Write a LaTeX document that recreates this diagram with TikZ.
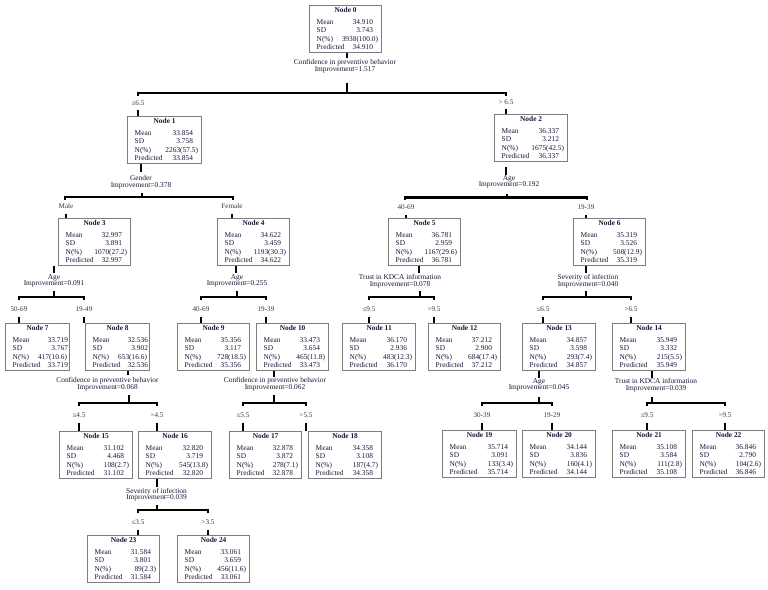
\documentclass[tikz,border=0pt]{standalone}
\usepackage{fontspec}
\setmainfont{Liberation Serif}
\definecolor{txt}{RGB}{22,22,55}
\definecolor{brc}{RGB}{55,55,70}
\definecolor{boxc}{RGB}{125,125,125}
\tikzset{
 box/.style={draw=boxc, line width=1.2bp, rectangle, inner sep=0, minimum height=47bp, anchor=north west},
 cell/.style={inner sep=0, text height=5bp, text depth=1.5bp, font=\fontsize{7.4}{8.3}\selectfont, text=txt},
 ttl/.style={cell, font=\fontsize{7.4}{8.3}\selectfont\bfseries},
 conn/.style={line width=2.1bp, draw=black},
 splitlab/.style={inner sep=0, align=center, font=\fontsize{7.4}{6.6}\selectfont, text=txt},
 brlab/.style={inner sep=0, text height=5bp, text depth=1.5bp, font=\fontsize{7.2}{8}\selectfont, text=brc},
}
\def\vm{9bp}\def\nm{4bp}
% name, x, y, width, number, mean, sd, n, predicted
\newcommand\tnode[9]{%
 \node[box, minimum width=#4bp] (#1) at (#2,#3) {};
 \node[ttl] (#1h) at ([yshift=-5.5bp]#1.north) {Node #5};
 \node[cell, anchor=west] (#1a) at ([xshift=7.5bp, yshift=-17.5bp]#1.north west) {Mean};
 \node[cell, anchor=west] (#1b) at ([xshift=7.5bp, yshift=-26bp]#1.north west) {SD};
 \node[cell, anchor=west] (#1c) at ([xshift=7.5bp, yshift=-34.3bp]#1.north west) {N(\%)};
 \node[cell, anchor=west] (#1d) at ([xshift=7.5bp, yshift=-42.6bp]#1.north west) {Predicted};
 \node[cell, anchor=east] (#1e) at ([xshift=-\vm, yshift=-17.5bp]#1.north east) {#6};
 \node[cell, anchor=east] (#1f) at ([xshift=-\vm, yshift=-26bp]#1.north east) {#7};
 \node[cell, anchor=east] (#1g) at ([xshift=-\nm, yshift=-34.3bp]#1.north east) {#8};
 \node[cell, anchor=east] (#1i) at ([xshift=-\vm, yshift=-42.6bp]#1.north east) {#9};
}
% parent stem: parent node, x, end y, coordinate name
\newcommand\pstem[4]{%
 \coordinate (#4) at (#2,#3);
 \draw[conn] (#4 |- #1.south) -- (#4);
}
% bar: name, tick x, tick top y, bar y, left x, right x
\newcommand\splitbar[6]{%
 \coordinate (#1l) at (#5,#4); \coordinate (#1r) at (#6,#4); \coordinate (#1t) at (#2,#3);
 \draw[conn] (#1t) -- (#1t |- #1l);
 \draw[conn] ([yshift=-3bp]#1l) -- (#1l) -- (#1r) -- ([yshift=-3bp]#1r);
}
% child label and stem: name, x, label y, text, child node
\newcommand\child[5]{%
 \node[brlab] (#1) at (#2,#3) {#4};
 \draw[conn] ([yshift=-6.5bp]#1.center) -- (#1 |- #5.north);
}
\begin{document}
\begin{tikzpicture}[x=1bp,y=-1bp]
\useasboundingbox (0,0) rectangle (768,590);
% ---------- nodes
\tnode{n0}{309}{5}{72}{0}{34.910}{3.743}{3938(100.0)}{34.910}
\tnode{n1}{127}{116}{74}{1}{33.854}{3.758}{2263(57.5)}{33.854}
\tnode{n2}{494}{114}{73}{2}{36.337}{3.212}{1675(42.5)}{36.337}
\tnode{n3}{58}{218}{72}{3}{32.997}{3.891}{1070(27.2)}{32.997}
\tnode{n4}{217}{218}{72}{4}{34.622}{3.459}{1193(30.3)}{34.622}
\tnode{n5}{388}{218}{72}{5}{36.781}{2.959}{1167(29.6)}{36.781}
\tnode{n6}{573}{218}{72}{6}{35.319}{3.526}{508(12.9)}{35.319}
\def\vm{2bp}\def\nm{3bp}
\tnode{n7}{5}{323}{64}{7}{33.719}{3.767}{417(10.6)}{33.719}
\tnode{n8}{85}{323}{64}{8}{32.536}{3.902}{653(16.6)}{32.536}
\def\vm{9bp}\def\nm{4bp}
\tnode{n9}{177}{323}{72}{9}{35.356}{3.117}{728(18.5)}{35.356}
\tnode{n10}{256}{323}{72}{10}{33.473}{3.654}{465(11.8)}{33.473}
\tnode{n11}{342}{323}{73}{11}{36.170}{2.936}{483(12.3)}{36.170}
\tnode{n12}{428}{323}{72}{12}{37.212}{2.900}{684(17.4)}{37.212}
\tnode{n13}{522}{323}{73}{13}{34.857}{3.598}{293(7.4)}{34.857}
\tnode{n14}{612}{323}{73}{14}{35.949}{3.332}{215(5.5)}{35.949}
\tnode{n15}{59}{431}{73}{15}{31.102}{4.468}{108(2.7)}{31.102}
\tnode{n16}{138}{431}{73}{16}{32.820}{3.719}{545(13.8)}{32.820}
\tnode{n17}{229}{431}{72}{17}{32.878}{3.872}{278(7.1)}{32.878}
\tnode{n18}{308}{431}{73}{18}{34.358}{3.108}{187(4.7)}{34.358}
\tnode{n19}{442}{430}{74}{19}{35.714}{3.091}{133(3.4)}{35.714}
\tnode{n20}{522}{430}{73}{20}{34.144}{3.836}{160(4.1)}{34.144}
\tnode{n21}{612}{430}{73}{21}{35.108}{3.584}{111(2.8)}{35.108}
\tnode{n22}{692}{430}{72}{22}{36.846}{2.790}{104(2.6)}{36.846}
\tnode{n23}{87}{535}{72}{23}{31.584}{3.801}{89(2.3)}{31.584}
\tnode{n24}{177}{535}{72}{24}{33.061}{3.659}{456(11.6)}{33.061}
% ---------- split 0
\pstem{n0}{347}{58}{p0}
\node[splitlab] (s0) at (345,66) {Confidence in preventive behavior\\Improvement=1.517};
\splitbar{b0}{347}{83}{93}{138}{506}
\child{c1}{138}{104}{≤6.5}{n1}
\child{c2}{506}{103}{> 6.5}{n2}
% ---------- split 1
\pstem{n1}{141}{172}{p1}
\node[splitlab] (s1) at (141,182) {Gender\\Improvement=0.378};
\splitbar{b1}{142}{193}{197}{65}{233}
\child{c3}{66}{207}{Male}{n3}
\child{c4}{232}{207}{Female}{n4}
% ---------- split 2
\coordinate (p2a) at (506,167); \coordinate (p2) at (506,175);
\draw[conn] (p2a) -- (p2);
\node[splitlab] (s2) at (509,182) {Age\\Improvement=0.192};
\splitbar{b2}{507}{194}{197.5}{405}{587}
\child{c5}{406}{208}{40-69}{n5}
\child{c6}{586}{208}{19-39}{n6}
% ---------- split 3
\pstem{n3}{54}{273}{p3}
\node[splitlab] (s3) at (54,281) {Age\\Improvement=0.091};
\splitbar{b3}{54}{291}{297}{19}{84}
\child{c7}{19}{310}{50-69}{n7}
\child{c8}{84}{310}{19-49}{n8}
% ---------- split 4
\pstem{n4}{236}{273}{p4}
\node[splitlab] (s4) at (237,281) {Age\\Improvement=0.255};
\splitbar{b4}{237}{291}{297}{201}{266}
\child{c9}{201}{310}{40-69}{n9}
\child{c10}{266}{310}{19-39}{n10}
% ---------- split 5
\pstem{n5}{419}{273}{p5}
\node[splitlab] (s5) at (400,281) {Trust in KDCA information\\Improvement=0.078};
\splitbar{b5}{420}{291}{297}{369}{434}
\child{c11}{369}{310}{≤9.5}{n11}
\child{c12}{434}{310}{>9.5}{n12}
% ---------- split 6
\pstem{n6}{586}{273}{p6}
\node[splitlab] (s6) at (588,281) {Severity of infection\\Improvement=0.040};
\splitbar{b6}{586}{291}{297}{543}{631}
\child{c13}{543}{310}{≤6.5}{n13}
\child{c14}{631}{310}{>6.5}{n14}
% ---------- split 8
\pstem{n8}{128}{375}{p8}
\node[splitlab] (s8) at (107.5,384) {Confidence in preventive behavior\\Improvement=0.068};
\splitbar{b8}{129}{395}{403}{79}{157}
\child{c15}{79}{416}{≤4.5}{n15}
\child{c16}{157}{416}{>4.5}{n16}
% ---------- split 10
\pstem{n10}{274}{377}{p10}
\node[splitlab] (s10) at (275,384) {Confidence in preventive behavior\\Improvement=0.062};
\splitbar{b10}{274}{395}{403}{243}{306}
\child{c17}{243}{416}{≤5.5}{n17}
\child{c18}{306}{416}{>5.5}{n18}
% ---------- split 13
\pstem{n13}{539}{378}{p13}
\node[splitlab] (s13) at (539,385) {Age\\Improvement=0.045};
\splitbar{b13}{539}{397}{403}{482}{552}
\child{c19}{482}{416}{30-39}{n19}
\child{c20}{552}{416}{19-29}{n20}
% ---------- split 14
\pstem{n14}{652}{378}{p14}
\node[splitlab] (s14) at (656,385) {Trust in KDCA information\\Improvement=0.039};
\splitbar{b14}{652}{397}{403}{647}{725}
\child{c21}{647}{416}{≤9.5}{n21}
\child{c22}{725}{416}{>9.5}{n22}
% ---------- split 16
\pstem{n16}{157}{487}{p16}
\node[splitlab] (s16) at (156.5,494.5) {Severity of infection\\Improvement=0.039};
\splitbar{b16}{157}{505}{510}{138}{208}
\child{c23}{138}{523}{≤3.5}{n23}
\child{c24}{208}{523}{>3.5}{n24}
\end{tikzpicture}
\end{document}
